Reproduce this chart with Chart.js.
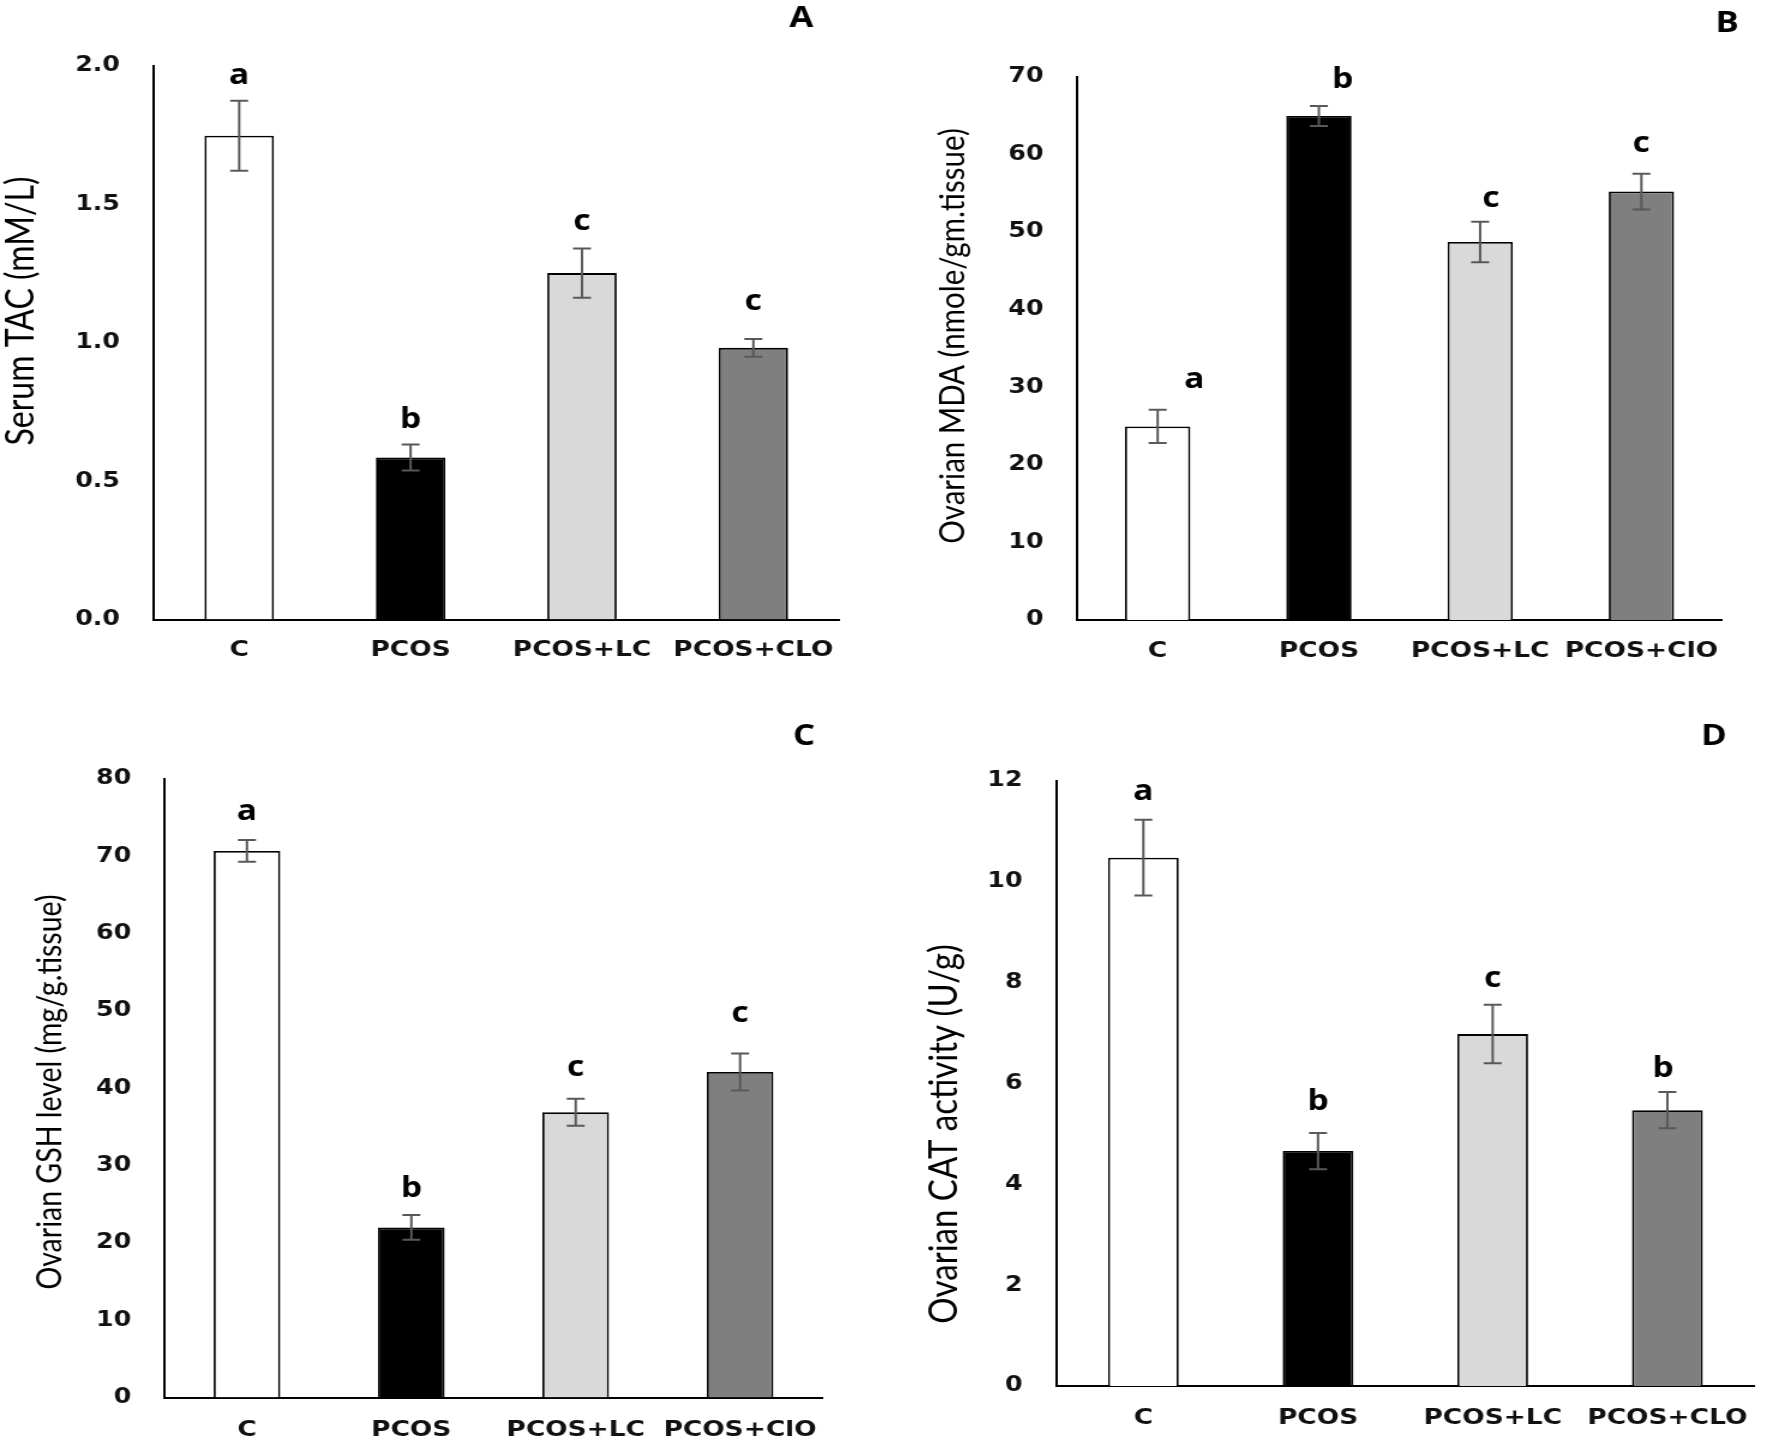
<!DOCTYPE html>
<html>
<head>
<meta charset="utf-8">
<script src="https://cdn.jsdelivr.net/npm/chart.js@4.4.1/dist/chart.umd.min.js"></script>
<style>
html, body { margin: 0; padding: 0; background: #ffffff; }
body { width: 1770px; height: 1441px; position: relative; overflow: hidden; }
.panel { position: absolute; transform-origin: 0 0; transform: scaleX(1.2); }
canvas { display: block; }
</style>
</head>
<body>
<div class="panel" style="left:0px;top:0px"><canvas id="cA" width="738" height="700"></canvas></div>
<div class="panel" style="left:885px;top:0px"><canvas id="cB" width="738" height="700"></canvas></div>
<div class="panel" style="left:0px;top:700px"><canvas id="cC" width="738" height="741"></canvas></div>
<div class="panel" style="left:885px;top:700px"><canvas id="cD" width="738" height="741"></canvas></div>
<script>
// ---------------- DATA ----------------
const categoriesA = ['C', 'PCOS', 'PCOS+LC', 'PCOS+CLO'];
const categoriesB = ['C', 'PCOS', 'PCOS+LC', 'PCOS+ClO'];
const categoriesC = ['C', 'PCOS', 'PCOS+LC', 'PCOS+ClO'];
const categoriesD = ['C', 'PCOS', 'PCOS+LC', 'PCOS+CLO'];

const tacMean = [1.747, 0.585, 1.251, 0.981];
const tacErr = [0.126, 0.047, 0.089, 0.032];
const tacLetters = ['a', 'b', 'c', 'c'];

const mdaMean = [24.94, 64.94, 48.7, 55.2];
const mdaErr = [2.15, 1.3, 2.6, 2.3];
const mdaLetters = ['a', 'b', 'c', 'c'];

const gshMean = [70.7, 22.0, 36.9, 42.1];
const gshErr = [1.4, 1.6, 1.75, 2.4];
const gshLetters = ['a', 'b', 'c', 'c'];

const catMean = [10.48, 4.66, 6.98, 5.47];
const catErr = [0.75, 0.36, 0.58, 0.36];
const catLetters = ['a', 'b', 'c', 'b'];

const yTitleA = 'Serum TAC (mM/L)';
const yTitleB = 'Ovarian MDA (nmole/gm.tissue)';
const yTitleC = 'Ovarian GSH level (mg/g.tissue)';
const yTitleD = 'Ovarian CAT activity (U/g)';
const panelNames = ['A', 'B', 'C', 'D'];

const barColors = ['#ffffff', '#000000', '#d9d9d9', '#7f7f7f'];

// ---------------- PLUGIN: error bars, letters, titles ----------------
const annotatePlugin = {
  id: 'annot',
  afterDatasetsDraw(chart, args, o) {
    const ctx = chart.ctx;
    const meta = chart.getDatasetMeta(0);
    const ys = chart.scales.y;
    const vals = chart.data.datasets[0].data;
    ctx.save();
    meta.data.forEach((bar, i) => {
      const x = bar.x;
      const yTop = ys.getPixelForValue(vals[i] + o.errors[i]);
      const yBot = ys.getPixelForValue(vals[i] - o.errors[i]);
      ctx.strokeStyle = '#595959';
      ctx.lineWidth = 2;
      ctx.beginPath();
      ctx.moveTo(x, yTop); ctx.lineTo(x, yBot);
      ctx.moveTo(x - 7.5, yTop); ctx.lineTo(x + 7.5, yTop);
      ctx.moveTo(x - 7.5, yBot); ctx.lineTo(x + 7.5, yBot);
      ctx.stroke();
      const sh = o.letterShift[i];
      ctx.fillStyle = '#000000';
      ctx.font = 'bold 28px "Open Sans"';
      ctx.textAlign = 'center';
      ctx.textBaseline = 'alphabetic';
      ctx.fillText(o.letters[i], x + sh[0], yTop - 17 + sh[1]);
    });
    // panel letter
    ctx.font = 'bold 29px "Open Sans"';
    ctx.textAlign = 'center';
    ctx.textBaseline = 'middle';
    ctx.fillText(o.panel, o.panelX, o.panelY);
    // y-axis title
    ctx.translate(o.titleX, o.titleY);
    ctx.rotate(-Math.PI / 2);
    ctx.font = o.titleSize + 'px Lato';
    ctx.fillStyle = '#000000';
    ctx.fillText(o.title, 0, 0);
    ctx.restore();
  }
};

function makePanel(c) {
  new Chart(document.getElementById(c.id), {
    type: 'bar',
    data: {
      labels: c.labels,
      datasets: [{
        data: c.values,
        backgroundColor: barColors,
        borderColor: '#000000',
        borderWidth: 1.8,
        borderSkipped: 'bottom',
        categoryPercentage: 1,
        barPercentage: 0.405
      }]
    },
    options: {
      responsive: false,
      animation: false,
      devicePixelRatio: 1,
      layout: { padding: { left: 0, top: c.top, right: c.W - c.right, bottom: 0 } },
      plugins: {
        legend: { display: false },
        tooltip: { enabled: false },
        annot: {
          errors: c.errors, letters: c.letters, letterShift: c.letterShift,
          panel: c.panel, panelX: c.panelX, panelY: c.panelY,
          title: c.title, titleX: c.titleX, titleY: c.titleY, titleSize: c.titleSize
        }
      },
      scales: {
        x: {
          grid: { display: false, drawTicks: false },
          border: { display: true, color: '#000000', width: 2 },
          ticks: {
            color: '#111111', padding: c.xPad, maxRotation: 0, autoSkip: false,
            font: { family: 'DejaVu Sans', weight: 'bold', size: 22 }
          },
          afterFit: s => { s.height = c.H - c.bottom; }
        },
        y: {
          min: 0, max: c.max,
          grid: { display: false, drawTicks: false },
          border: { display: true, color: '#000000', width: 2 },
          ticks: {
            stepSize: c.step, padding: 28, color: '#111111',
            font: { family: 'DejaVu Sans', weight: 'bold', size: 21 },
            callback: v => v.toFixed(c.dec)
          },
          afterFit: s => { s.width = c.left; }
        }
      }
    },
    plugins: [annotatePlugin]
  });
}

makePanel({
  id: 'cA', W: 738, H: 700, left: 127.9, right: 699.2, top: 65.7, bottom: 619.5, xPad: 18,
  labels: categoriesA, values: tacMean, errors: tacErr, letters: tacLetters,
  letterShift: [[0, 0], [0, 0.7], [0, -1], [0, -11.6]],
  max: 2, step: 0.5, dec: 1,
  panel: panelNames[0], panelX: 667.8, panelY: 19,
  title: yTitleA, titleX: 17.5, titleY: 311, titleSize: 32
});
makePanel({
  id: 'cB', W: 738, H: 700, left: 160, right: 697.5, top: 76.7, bottom: 620, xPad: 18,
  labels: categoriesB, values: mdaMean, errors: mdaErr, letters: mdaLetters,
  letterShift: [[30.6, -4.5], [19.7, -1], [8.9, 2], [0, -4.5]],
  max: 70, step: 10, dec: 0,
  panel: panelNames[1], panelX: 701.7, panelY: 24,
  title: yTitleB, titleX: 56.7, titleY: 336, titleSize: 29.5
});
makePanel({
  id: 'cC', W: 738, H: 741, left: 137.3, right: 685.2, top: 79, bottom: 697.6, xPad: 19,
  labels: categoriesC, values: gshMean, errors: gshErr, letters: gshLetters,
  letterShift: [[0, -3.5], [0, -1], [0, -6], [0, -15]],
  max: 80, step: 10, dec: 0,
  panel: panelNames[2], panelX: 670, panelY: 37,
  title: yTitleC, titleX: 41.7, titleY: 392, titleSize: 28.5
});
makePanel({
  id: 'cD', W: 738, H: 741, left: 142.5, right: 735, top: 81, bottom: 686, xPad: 19,
  labels: categoriesD, values: catMean, errors: catErr, letters: catLetters,
  letterShift: [[0, -2.4], [0, -6], [0, -1], [-3.7, 1.5]],
  max: 12, step: 2, dec: 0,
  panel: panelNames[3], panelX: 690.8, panelY: 37,
  title: yTitleD, titleX: 49, titleY: 434, titleSize: 33
});
</script>
</body>
</html>
